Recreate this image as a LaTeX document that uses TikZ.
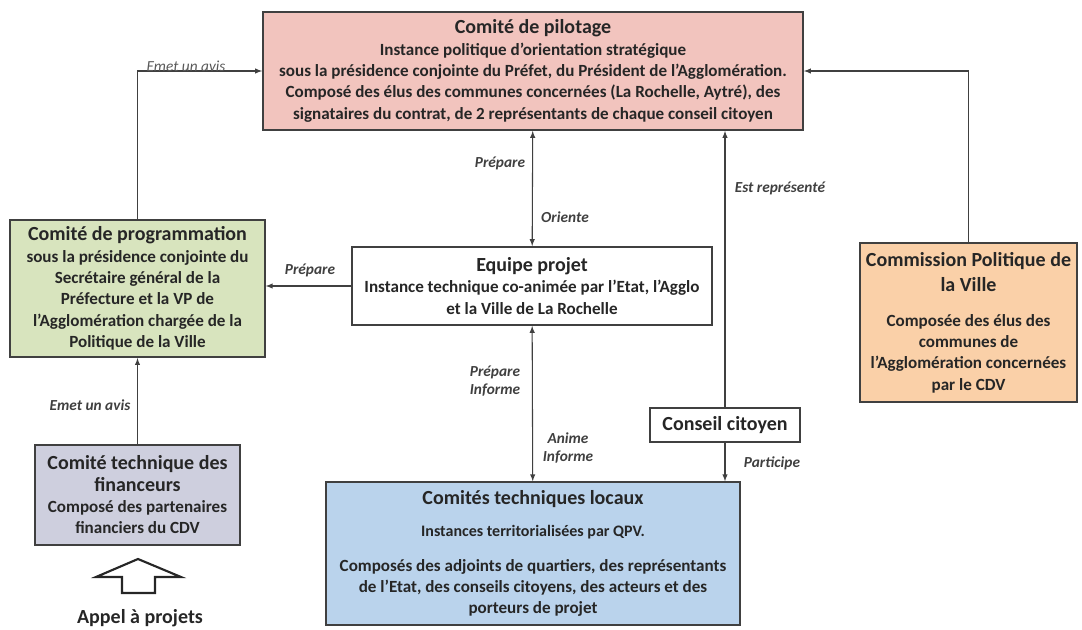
\documentclass[tikz,border=0pt]{standalone}
\usepackage{fontspec}
\setmainfont{Carlito}
\usepackage{tikz}
\usetikzlibrary{arrows}
\definecolor{pilotfill}{RGB}{242,196,190}
\definecolor{progfill}{RGB}{216,228,190}
\definecolor{finfill}{RGB}{206,207,222}
\definecolor{locfill}{RGB}{186,211,236}
\definecolor{villefill}{RGB}{250,208,168}
\newcommand{\ttl}{\fontsize{15}{18}\selectfont}

\begin{document}
\begin{tikzpicture}[x=0.75pt,y=-0.75pt,>=latex]
\useasboundingbox (0,0) rectangle (1082,629);
\tikzstyle{every node}=[font=\bfseries\fontsize{12.8}{16}\selectfont,text=black!85,align=center]
\tikzstyle{box}=[rectangle,draw=black!75,line width=1.3pt,inner sep=2pt]
\tikzstyle{lbl}=[font=\bfseries\itshape\fontsize{11.5}{14}\selectfont,text=black!75]
\node[box,fill=pilotfill,minimum width=405pt,minimum height=88.5pt] (p) at (533,71)
  {{\ttl Comité de pilotage}\\
   Instance politique d’orientation stratégique\\
   sous la présidence conjointe du Préfet, du Président de l’Agglomération.\\
   Composé des élus des communes concernées (La Rochelle, Aytré), des\\
   signataires du contrat, de 2 représentants de chaque conseil citoyen};
\node[box,fill=progfill,minimum width=191pt,minimum height=103pt] (g) at (137.5,288.5)
  {{\ttl Comité de programmation}\\
   sous la présidence conjointe du\\
   Secrétaire général de la\\
   Préfecture et la VP de\\
   l’Agglomération chargée de la\\
   Politique de la Ville};
\node[box,fill=white,minimum width=270pt,minimum height=58.5pt] (e) at (532,286)
  {{\ttl Equipe projet}\\
   Instance technique co-animée par l’Etat, l’Agglo\\
   et la Ville de La Rochelle};
\node[box,fill=locfill,minimum width=310pt,minimum height=107pt] (c) at (533,553.5)
  {{\ttl Comités techniques locaux}\\[8pt]
   {\fontsize{12}{14}\selectfont Instances territorialisées par QPV.}\\[10pt]
   Composés des adjoints de quartiers, des représentants\\
   de l’Etat, des conseils citoyens, des acteurs et des\\
   porteurs de projet};
\node[box,fill=white,minimum width=112pt,minimum height=25.5pt] (k) at (725,425)
  {{\ttl Conseil citoyen}};
\node[box,fill=villefill,minimum width=163pt,minimum height=119pt] (v) at (968.5,322.5)
  {{\ttl Commission Politique de}\\[3pt]
   {\ttl la Ville}\\[10pt]
   Composée des élus des\\
   communes de\\
   l’Agglomération concernées\\
   par le CDV};
\node[box,fill=finfill,minimum width=154pt,minimum height=75pt] (f) at (137.5,495)
  {{\ttl Comité technique des}\\
   {\ttl financeurs}\\
   Composé des partenaires\\
   financiers du CDV};
\node (a) at (140,618) {{\ttl Appel à projets}};
% connecteurs
\tikzstyle{every path}=[line width=0.8pt,draw=black!75]
\draw[->] (g.north) |- (p.west);
\draw[->] (v.north) |- (p.east);
\draw[<->] (p) -- (e);
\draw[->] (e.west) -- (g.east |- e.west);
\draw[<->] (e) -- (c);
\draw[->] (k.north) -- (k.north |- p.south);
\draw[->] (k.south) -- (k.south |- c.north);
\draw[->] (f) -- (g);
% grosse fleche
\draw[line width=1.6pt,draw=black!85,line join=miter] (138,559) -- (181,577) -- (155,577) -- (155,593) -- (122,593) -- (122,577) -- (96,577) -- cycle;
% etiquettes
\node[font=\itshape\fontsize{11.5}{14}\selectfont,text=black!65] at (186,66) {Emet un avis};
\node[lbl] at (500,163) {Prépare};
\node[lbl] at (565,217) {Oriente};
\node[lbl] at (780,188) {Est représenté};
\node[lbl] at (310,270) {Prépare};
\node[lbl] at (495,381) {Prépare\\Informe};
\node[lbl] at (568,448) {Anime\\Informe};
\node[lbl] at (772,463) {Participe};
\node[lbl] at (90,405) {Emet un avis};
\end{tikzpicture}
\end{document}
